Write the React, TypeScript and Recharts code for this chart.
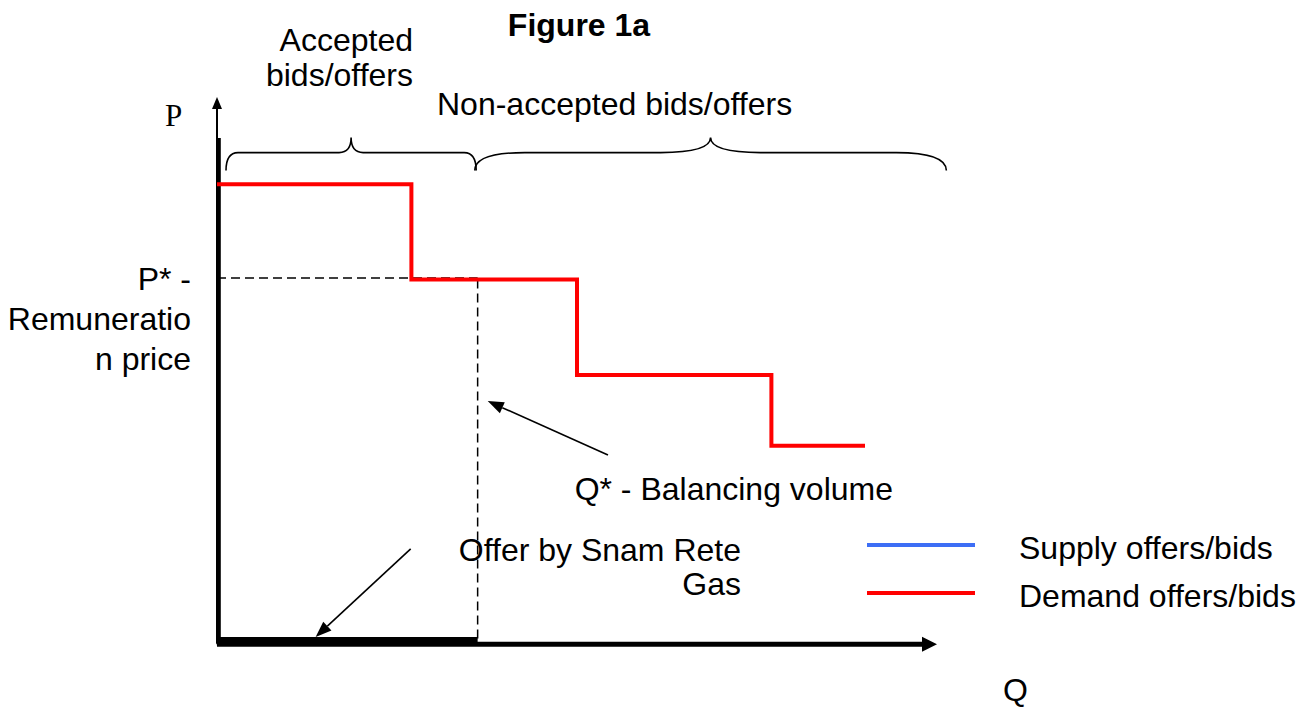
import { ComposedChart, Line, XAxis, YAxis, ReferenceLine, Legend } from 'recharts';

// demand step curve (quantity / price, arbitrary units 0..100)
const quantity = [0, 27, 50, 77, 90];
const demandPrice = [84, 66.5, 49, 36, 36];

const pStar = 66.5;
const qStar = 36.2;

// braces above the chart: [start, end] on Q, drawn at braceLevel on P
const acceptedRange = [1.25, 36];
const nonAcceptedRange = [35.8, 101.3];
const braceLevel = 89.8;

// annotation arrows [from, to] as [q, p]
const qStarArrow = [[54.3, 34.3], [37.6, 44.2]];
const snamArrow = [[26.9, 17.1], [13.7, 0.9]];

const legendNames = ['Supply offers/bids', 'Demand offers/bids'];
const legendColors = ['#3d6ef5', '#ff0000'];

const title = 'Figure 1a';
const acceptedLabel = ['Accepted', 'bids/offers'];
const nonAcceptedLabel = 'Non-accepted bids/offers';
const pStarLabel = ['P* -', 'Remuneratio', 'n price'];
const qStarLabel = 'Q* - Balancing volume';
const snamLabel = ['Offer by Snam Rete', 'Gas'];

const data = quantity.map((q, i) => ({ q, p: demandPrice[i] }));

const FONT = '"Liberation Sans", Arial, sans-serif';

// eslint-disable-next-line @typescript-eslint/no-explicit-any
const arrowShape = (head: number, half: number, width: number) => (props: any) => {
    const { x1, y1, x2, y2 } = props;
    const a = Math.atan2(y2 - y1, x2 - x1);
    const bx = x2 - head * Math.cos(a), by = y2 - head * Math.sin(a);
    const px = -Math.sin(a) * half, py = Math.cos(a) * half;
    return (
        <g>
            <line x1={x1} y1={y1} x2={bx} y2={by} stroke="#000" strokeWidth={width} />
            <polygon points={`${x2},${y2} ${bx + px},${by + py} ${bx - px},${by - py}`} fill="#000" />
        </g>
    );
};

// eslint-disable-next-line @typescript-eslint/no-explicit-any
const braceShape = (r: number) => (props: any) => {
    const { x1, x2, y1 } = props;
    const m = (x1 + x2) / 2;
    const y = y1, down = 18, up = 15;
    const d = `M${x1},${y + down} Q${x1},${y} ${x1 + r},${y} L${m - r},${y} Q${m},${y} ${m},${y - up} Q${m},${y} ${m + r},${y} L${x2 - r},${y} Q${x2},${y} ${x2},${y + down}`;
    return <path d={d} fill="none" stroke="#000" strokeWidth={1.6} />;
};

const LegendBox = () => (
    <div style={{ fontFamily: FONT, fontSize: 32, color: '#000' }}>
        {legendNames.map((name, i) => (
            <div key={name} style={{ display: 'flex', alignItems: 'center', height: 48 }}>
                <div style={{ width: 108, height: 4.5, background: legendColors[i], marginRight: 44 }} />
                <span style={{ lineHeight: '48px', paddingTop: 6 }}>{name}</span>
            </div>
        ))}
    </div>
);

export default function App() {
    const t = { fontFamily: FONT, fontSize: 32, fill: '#000' };
    return (
        <div style={{ position: 'fixed', left: 0, top: 0, width: 1316, height: 709, background: '#fff' }}>
            <ComposedChart width={1316} height={709} data={data} margin={{ top: 97, right: 379, bottom: 67, left: 217 }}>
                <XAxis dataKey="q" type="number" domain={[0, 100]} hide />
                <YAxis type="number" domain={[0, 100]} hide />

                {/* axes */}
                <ReferenceLine segment={[{ x: 0, y: -0.3 }, { x: 0, y: 100 }]} ifOverflow="visible" shape={arrowShape(12, 5, 2)} />
                <ReferenceLine segment={[{ x: 0.25, y: -0.6 }, { x: 0.25, y: 92.5 }]} ifOverflow="visible" stroke="#000" strokeWidth={4} />
                <ReferenceLine segment={[{ x: 0, y: -0.4 }, { x: 100, y: -0.4 }]} ifOverflow="visible" shape={arrowShape(15, 7.5, 5)} />
                <ReferenceLine segment={[{ x: 0, y: 0.2 }, { x: qStar, y: 0.2 }]} ifOverflow="visible" stroke="#000" strokeWidth={8} />

                {/* P* / Q* guides */}
                <ReferenceLine segment={[{ x: 0, y: pStar + 0.3 }, { x: qStar, y: pStar + 0.3 }]} stroke="#000" strokeWidth={1.5} strokeDasharray="9 5" />
                <ReferenceLine segment={[{ x: qStar, y: pStar }, { x: qStar, y: -0.5 }]} ifOverflow="visible" stroke="#000" strokeWidth={1.5} strokeDasharray="9 5" />

                {/* braces */}
                <ReferenceLine segment={[{ x: acceptedRange[0], y: braceLevel }, { x: acceptedRange[1], y: braceLevel }]} ifOverflow="visible" shape={braceShape(12)} />
                <ReferenceLine segment={[{ x: nonAcceptedRange[0], y: braceLevel }, { x: nonAcceptedRange[1], y: braceLevel }]} ifOverflow="visible" shape={braceShape(50)} />

                {/* annotation arrows */}
                <ReferenceLine segment={[{ x: qStarArrow[0][0], y: qStarArrow[0][1] }, { x: qStarArrow[1][0], y: qStarArrow[1][1] }]} ifOverflow="visible" shape={arrowShape(16, 6, 1.6)} />
                <ReferenceLine segment={[{ x: snamArrow[0][0], y: snamArrow[0][1] }, { x: snamArrow[1][0], y: snamArrow[1][1] }]} ifOverflow="visible" shape={arrowShape(16, 6, 1.6)} />

                <Line type="stepAfter" dataKey="p" stroke="#ff0000" strokeWidth={4} dot={false} isAnimationActive={false} />

                <Legend layout="vertical" align="center" verticalAlign="middle" content={<LegendBox />}
                    wrapperStyle={{ left: 867, top: 521, width: 440 }} />
            </ComposedChart>

            <svg width={1316} height={709} style={{ position: 'absolute', left: 0, top: 0, pointerEvents: 'none' }}>
                <text x={579} y={36} textAnchor="middle" {...t} fontWeight="bold">{title}</text>
                <text x={413} y={51} textAnchor="end" {...t}>{acceptedLabel[0]}</text>
                <text x={413} y={86} textAnchor="end" {...t}>{acceptedLabel[1]}</text>
                <text x={437} y={115} {...t}>{nonAcceptedLabel}</text>
                <text x={165} y={126} fontFamily='"Liberation Serif", "Times New Roman", serif' fontSize={31}>P</text>
                {pStarLabel.map((s, i) => (
                    <text key={s} x={191} y={290 + i * 40} textAnchor="end" {...t}>{s}</text>
                ))}
                <text x={893} y={500} textAnchor="end" {...t}>{qStarLabel}</text>
                <text x={741} y={561} textAnchor="end" {...t}>{snamLabel[0]}</text>
                <text x={741} y={595} textAnchor="end" {...t}>{snamLabel[1]}</text>
                <text x={1003} y={701} {...t}>Q</text>
            </svg>
        </div>
    );
}
